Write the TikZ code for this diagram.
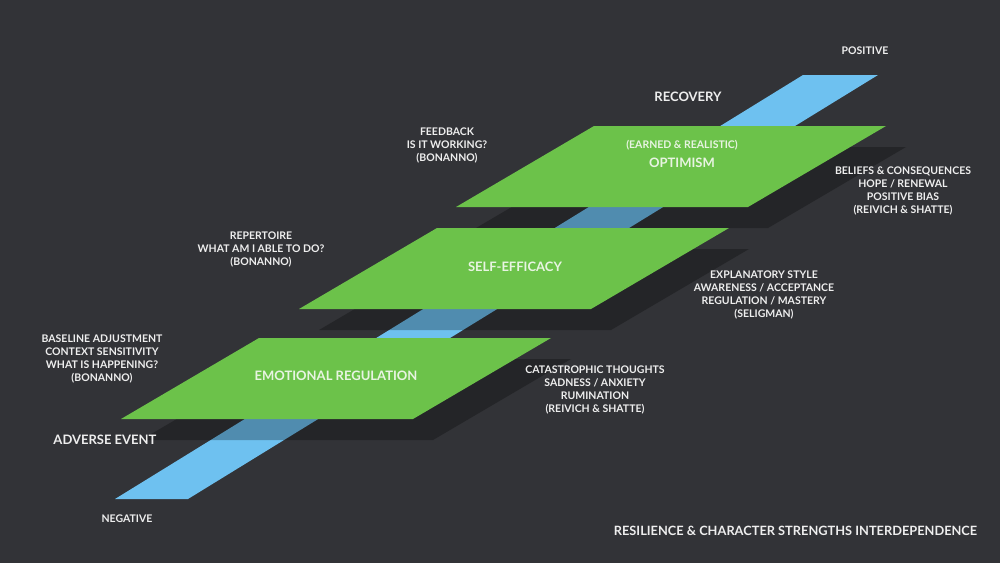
\documentclass[tikz,border=0pt]{standalone}
\usepackage{fontspec}
\setmainfont{Lato}
\definecolor{bgc}{RGB}{50,51,55}
\definecolor{greenc}{RGB}{108,194,74}
\definecolor{bluec}{RGB}{110,193,240}
\definecolor{txtc}{RGB}{238,238,238}
\definecolor{ptxtc}{RGB}{232,244,226}
\begin{document}
\begin{tikzpicture}[x=1pt,y=-1pt,
  smalltxt/.style={text=txtc, font=\bfseries\fontsize{10.5}{13}\selectfont, align=center, inner sep=0pt},
  bigtxt/.style={text=txtc, font=\bfseries\fontsize{13}{15}\selectfont, inner sep=0pt},
  planetxt/.style={text=ptxtc, font=\bfseries\fontsize{13}{15}\selectfont, inner sep=0pt},
  planesmall/.style={text=ptxtc, font=\bfseries\fontsize{10.5}{13}\selectfont, inner sep=0pt},
  planefill/.style={fill=greenc},
  shadowfill/.style={fill=black, fill opacity=0.27},
  bandfill/.style={fill=bluec}]
\fill[bgc] (0,0) rectangle (1000,563);
\useasboundingbox (0,0) rectangle (1000,563);
% band
\coordinate (b1) at (115,499);
\coordinate (b2) at (188,499);
\coordinate (b3) at (878,75);
\coordinate (b4) at (803,75);
\fill[bandfill] (b1) -- (b2) -- (b3) -- (b4) -- cycle;
% shadows
\foreach \px/\py/\nm in {121/419/em, 299/309/se, 456/207/op}{
  \fill[shadowfill] (\px+20,\py+21) -- ++(292,0) -- ++(138,-81) -- ++(-292,0) -- cycle;
}
% planes
\foreach \px/\py/\nm in {121/419/em, 299/309/se, 456/207/op}{
  \coordinate (\nm-bl) at (\px,\py);
  \fill[planefill] (\nm-bl) -- ++(292,0) -- ++(138,-81) -- ++(-292,0) -- cycle;
}
% texts
\node[smalltxt] (pos) at (865,51) {POSITIVE};
\node[bigtxt] (rec) at (688,97) {RECOVERY};
\node[smalltxt] (feed) at (447,145) {FEEDBACK\\IS IT WORKING?\\(BONANNO)};
\node[planesmall] (earn) at (682,145) {(EARNED \& REALISTIC)};
\node[planetxt] (opt) at (682,163) {OPTIMISM};
\node[smalltxt] (bel) at (903,190.5) {BELIEFS \& CONSEQUENCES\\HOPE / RENEWAL\\POSITIVE BIAS\\(REIVICH \& SHATTE)};
\node[smalltxt] (rep) at (261,249) {REPERTOIRE\\WHAT AM I ABLE TO DO?\\(BONANNO)};
\node[planetxt] (self) at (515,267) {SELF-EFFICACY};
\node[smalltxt] (expl) at (764,294.5) {EXPLANATORY STYLE\\AWARENESS / ACCEPTANCE\\REGULATION / MASTERY\\(SELIGMAN)};
\node[smalltxt] (base) at (102,359) {BASELINE ADJUSTMENT\\CONTEXT SENSITIVITY\\WHAT IS HAPPENING?\\(BONANNO)};
\node[planetxt] (emo) at (336,376) {EMOTIONAL REGULATION};
\node[smalltxt] (cat) at (595,390) {CATASTROPHIC THOUGHTS\\SADNESS / ANXIETY\\RUMINATION\\(REIVICH \& SHATTE)};
\node[bigtxt] (adv) at (105,440) {ADVERSE EVENT};
\node[smalltxt] (neg) at (127,519) {NEGATIVE};
\node[bigtxt, font=\bfseries\fontsize{12.8}{15}\selectfont] (title) at (795.5,531) {RESILIENCE \& CHARACTER STRENGTHS INTERDEPENDENCE};
\end{tikzpicture}
\end{document}
